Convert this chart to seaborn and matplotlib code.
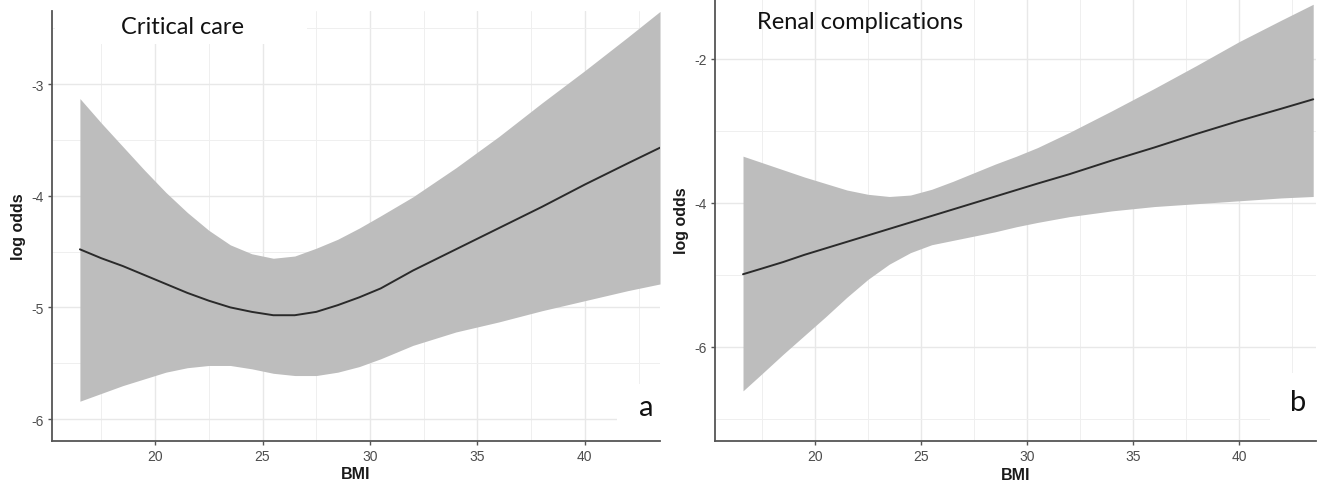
import numpy as np
import matplotlib
matplotlib.use("Agg")
import matplotlib.pyplot as plt
from matplotlib.patches import Rectangle
from matplotlib.ticker import MultipleLocator
import seaborn as sns

# panel a: critical care
bmi_a = [16.5, 17.5, 18.5, 19.5, 20.5, 21.5, 22.5, 23.5, 24.5, 25.5, 26.5, 27.5,
         28.5, 29.5, 30.5, 32, 34, 36, 38, 40, 42, 43.5]
fit_a = [-4.48, -4.56, -4.63, -4.71, -4.79, -4.87, -4.94, -5.00, -5.04, -5.07, -5.07, -5.04,
         -4.98, -4.91, -4.83, -4.67, -4.48, -4.29, -4.10, -3.90, -3.71, -3.57]
upper_a = [-3.13, -3.35, -3.56, -3.77, -3.97, -4.15, -4.31, -4.44, -4.52, -4.56, -4.54, -4.47,
           -4.39, -4.29, -4.18, -4.01, -3.75, -3.47, -3.17, -2.88, -2.58, -2.35]
lower_a = [-5.84, -5.77, -5.70, -5.64, -5.58, -5.54, -5.52, -5.52, -5.55, -5.59, -5.61, -5.61,
           -5.58, -5.53, -5.46, -5.34, -5.22, -5.13, -5.03, -4.94, -4.85, -4.79]

# panel b: renal complications
bmi_b = [16.6, 17.5, 18.5, 19.5, 20.5, 21.5, 22.5, 23.5, 24.5, 25.5, 26.5, 27.5,
         28.5, 29.5, 30.5, 32, 34, 36, 38, 40, 42, 43.5]
fit_b = [-4.99, -4.91, -4.82, -4.72, -4.63, -4.54, -4.45, -4.36, -4.27, -4.18, -4.09, -4.00,
         -3.91, -3.82, -3.73, -3.60, -3.41, -3.23, -3.04, -2.86, -2.69, -2.56]
upper_b = [-3.35, -3.44, -3.54, -3.64, -3.73, -3.82, -3.88, -3.91, -3.89, -3.81, -3.70, -3.58,
           -3.46, -3.35, -3.23, -3.02, -2.72, -2.41, -2.09, -1.76, -1.46, -1.24]
lower_b = [-6.61, -6.37, -6.10, -5.84, -5.58, -5.31, -5.06, -4.85, -4.69, -4.58, -4.52, -4.46,
           -4.40, -4.33, -4.27, -4.19, -4.11, -4.05, -4.01, -3.97, -3.93, -3.91]

titles = ["Critical care", "Renal complications"]
tags = ["a", "b"]

sns.set_theme(style="white")
plt.rcParams['font.family'] = ['Liberation Sans', 'DejaVu Sans']
plt.rcParams['axes.unicode_minus'] = False

fig = plt.figure(figsize=(13.19, 4.85), dpi=100)
ax_a = fig.add_axes([0.0394, 0.0887, 0.461, 0.8866])
ax_b = fig.add_axes([0.5421, 0.0887, 0.4556, 0.9113])

panels = [
    (ax_a, bmi_a, fit_a, lower_a, upper_a, (15.2, 43.5), (-6.196, -2.346), 1.0, 0.5),
    (ax_b, bmi_b, fit_b, lower_b, upper_b, (15.28, 43.63), (-7.306, -1.167), 2.0, 1.0),
]

for i, (ax, x, y, lo, hi, xl, yl, ymaj, ymin) in enumerate(panels):
    ax.fill_between(x, lo, hi, color="#bdbdbd", lw=0, zorder=1)
    sns.lineplot(x=x, y=y, ax=ax, color="#2a2a2a", lw=1.4, zorder=2)
    ax.set_xlim(*xl)
    ax.set_ylim(*yl)
    ax.xaxis.set_major_locator(MultipleLocator(5))
    ax.xaxis.set_minor_locator(MultipleLocator(2.5))
    ax.yaxis.set_major_locator(MultipleLocator(ymaj))
    ax.yaxis.set_minor_locator(MultipleLocator(ymin))
    ax.set_axisbelow(True)
    ax.grid(which="major", color="#e8e8e8", lw=1.0)
    ax.grid(which="minor", color="#efefef", lw=0.7)
    for s in ["top", "right"]:
        ax.spines[s].set_visible(False)
    for s in ["left", "bottom"]:
        ax.spines[s].set_color("#555555")
        ax.spines[s].set_linewidth(1.3)
    ax.tick_params(which="major", length=3, width=1, color="#555555",
                   labelsize=10, labelcolor="#4d4d4d", pad=3, left=True, bottom=True)
    ax.tick_params(which="minor", length=0)
    ax.set_xlabel("BMI", fontsize=11.5, color="#1a1a1a", fontweight="bold")
    ax.set_ylabel("log odds", fontsize=11.5, color="#1a1a1a", fontweight="bold")
    ax.xaxis.set_label_coords(0.5, -0.058)
    ax.yaxis.set_label_coords(-0.043, 0.5)

# white boxes behind the annotations
ax_a.add_patch(Rectangle((0.005, 0.923), 0.415, 0.08, transform=ax_a.transAxes,
                         color="white", lw=0, zorder=0.8, clip_on=False))
ax_a.add_patch(Rectangle((0.929, 0.003), 0.071, 0.13, transform=ax_a.transAxes,
                         color="white", lw=0, zorder=0.8))
ax_b.add_patch(Rectangle((0.923, 0.003), 0.077, 0.15, transform=ax_b.transAxes,
                         color="white", lw=0, zorder=0.8))

ann = ['Lato', 'DejaVu Sans']
ax_a.text(0.215, 0.963, titles[0], transform=ax_a.transAxes, ha="center", va="center",
          fontsize=17, family=ann, color="#111111")
ax_b.text(0.241, 0.950, titles[1], transform=ax_b.transAxes, ha="center", va="center",
          fontsize=17, family=ann, color="#111111")
ax_a.text(0.977, 0.079, tags[0], transform=ax_a.transAxes, ha="center", va="center",
          fontsize=21, family=ann, color="#111111")
ax_b.text(0.970, 0.088, tags[1], transform=ax_b.transAxes, ha="center", va="center",
          fontsize=21, family=ann, color="#111111")

fig.savefig("out.png", dpi=100)
plt.close(fig)
